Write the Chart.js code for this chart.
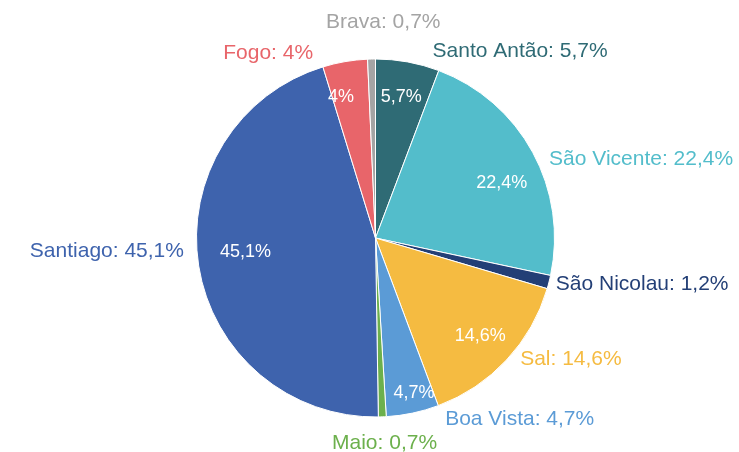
<!DOCTYPE html>
<html lang="pt">

<head>
    <meta charset="UTF-8">
    <title>População por ilha - Cabo Verde</title>
    <script src="https://cdn.jsdelivr.net/npm/chart.js"></script>
    <style>
        body {
            margin: 0;
            background-color: #ffffff;
        }

        .chart-container {
            position: relative;
            width: 739px;
            height: 452px;
        }
    </style>
</head>

<body>
    <div class="chart-container">
        <canvas id="islandChart" width="739" height="452"></canvas>
    </div>

    <script>
        // Islands, clockwise from the top
        const islands = ['Santo Antão', 'São Vicente', 'São Nicolau', 'Sal', 'Boa Vista', 'Maio', 'Santiago', 'Fogo', 'Brava'];
        const shares = [5.7, 22.4, 1.2, 14.6, 4.7, 0.7, 45.1, 4, 0.7];
        const sliceColors = ['#2f6b75', '#53bdcb', '#233f76', '#f5bb41', '#5b9bd6', '#6cb04c', '#3e63ad', '#e8656a', '#a4a4a4'];

        // small tweaks so outer labels don't crowd each other: [degrees, extra px outwards]
        const labelNudge = {
            'Santo Antão': [7.5, 0], 'São Vicente': [4.6, 4], 'Sal': [-4, 0], 'Boa Vista': [-10, 0],
            'Maio': [0.9, 9], 'Santiago': [5, 6], 'Fogo': [-9.8, 0], 'Brava': [2.3, 19]
        };
        // same idea for the white labels inside: [degrees, fraction of radius]
        const insideNudge = {
            'São Vicente': [5, 0.77], 'Santiago': [3, 0.73], 'Boa Vista': [-2, 0.89], 'Fogo': [-4, 0.81]
        };

        const FONT = '"Liberation Sans", Arial, sans-serif';
        const fmt = v => String(v).replace('.', ',') + '%';
        const rad = d => d * Math.PI / 180;

        // Draws the percentage inside big slices and "name: value" outside every slice
        const pieLabels = {
            id: 'pieLabels',
            afterDatasetsDraw(chart) {
                const ctx = chart.ctx;
                const meta = chart.getDatasetMeta(0);
                ctx.save();
                ctx.textBaseline = 'middle';
                ctx.textAlign = 'center';
                meta.data.forEach((arc, i) => {
                    const { x, y, startAngle, endAngle, outerRadius } = arc.getProps(['x', 'y', 'startAngle', 'endAngle', 'outerRadius'], true);
                    const mid = (startAngle + endAngle) / 2;
                    const value = shares[i];
                    const name = islands[i];

                    // inside label
                    if (value >= 4) {
                        const [da, f] = insideNudge[name] || [0, 0.8];
                        const ai = mid + rad(da);
                        const ri = outerRadius * f;
                        ctx.font = '18px ' + FONT;
                        ctx.fillStyle = '#ffffff';
                        ctx.fillText(fmt(value), x + ri * Math.cos(ai), y + ri * Math.sin(ai));
                    }

                    // outside label
                    const text = name + ': ' + fmt(value);
                    const [shift, push] = labelNudge[name] || [0, 0];
                    ctx.font = '21px ' + FONT;
                    ctx.fillStyle = sliceColors[i];
                    const a = mid + rad(shift);
                    const vx = Math.cos(a), vy = Math.sin(a);
                    const r = outerRadius + 7 + push;
                    const hw = ctx.measureText(text).width / 2;
                    const hh = 10.5;
                    const side = Math.max(-1, Math.min(1, vx * 4));
                    const tx = x + r * vx + hw * side;
                    const ty = y + r * vy + hh * vy * Math.abs(vy);
                    ctx.fillText(text, tx, ty);
                });
                ctx.restore();
            }
        };

        const ctx = document.getElementById('islandChart').getContext('2d');
        const chart = new Chart(ctx, {
            type: 'pie',
            data: {
                labels: islands,
                datasets: [{
                    data: shares,
                    backgroundColor: sliceColors,
                    borderColor: '#ffffff',
                    borderWidth: 1
                }]
            },
            options: {
                responsive: false,
                maintainAspectRatio: false,
                animation: false,
                layout: {
                    padding: { left: 196, right: 184, top: 58, bottom: 34 }
                },
                plugins: {
                    legend: { display: false },
                    tooltip: { enabled: false }
                }
            },
            plugins: [pieLabels]
        });
    </script>
</body>

</html>
